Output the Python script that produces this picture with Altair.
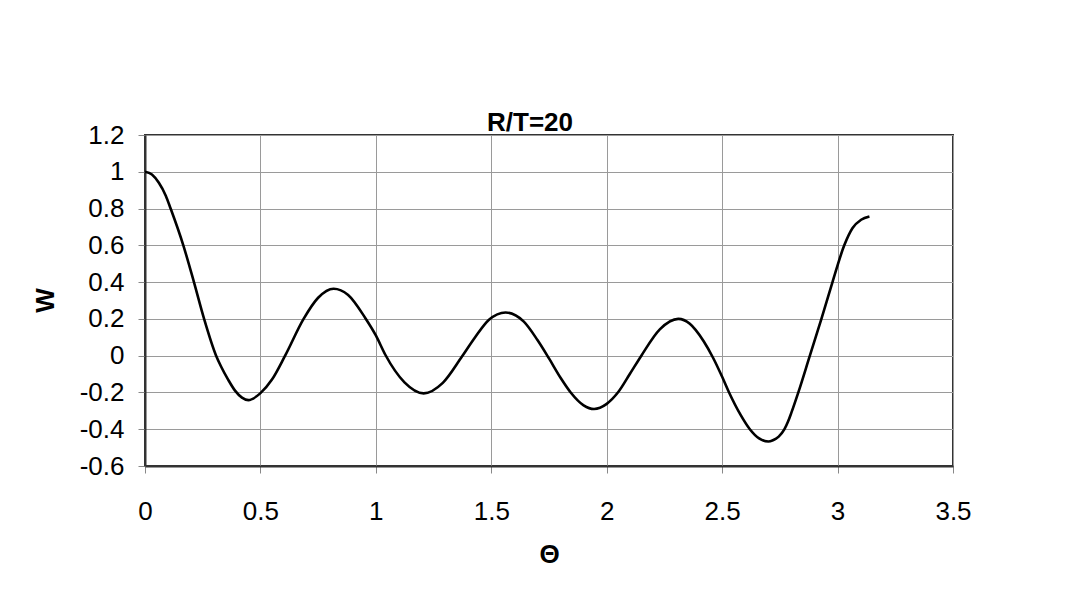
import altair as alt
import pandas as pd

# Curve W(Theta) for R/T = 20
theta = [0.0, 0.03, 0.06, 0.09, 0.111, 0.166, 0.212, 0.256, 0.308, 0.33,
         0.36, 0.39, 0.42, 0.448, 0.499, 0.55, 0.607, 0.687, 0.75, 0.817,
         0.88, 0.954, 1.0, 1.041, 1.124, 1.207, 1.29, 1.373, 1.43, 1.49,
         1.562, 1.641, 1.70, 1.75, 1.80, 1.844, 1.9, 1.945, 2.0, 2.05,
         2.10, 2.15, 2.23, 2.31, 2.36, 2.385, 2.42, 2.46, 2.5, 2.53,
         2.58, 2.62, 2.66, 2.70, 2.72, 2.745, 2.77, 2.785, 2.80, 2.83,
         2.88, 2.93, 2.978, 3.029, 3.065, 3.102, 3.138]
w = [1.0, 0.985, 0.94, 0.87, 0.8, 0.6, 0.4, 0.2, 0.0, -0.06,
     -0.13, -0.19, -0.228, -0.242, -0.205, -0.13, 0.0, 0.2, 0.315, 0.364,
     0.33, 0.205, 0.11, 0.005, -0.145, -0.205, -0.148, -0.005, 0.1, 0.195,
     0.235, 0.185, 0.085, -0.015, -0.12, -0.2, -0.27, -0.29, -0.262, -0.198,
     -0.1, 0.0, 0.143, 0.2, 0.173, 0.14, 0.078, -0.01, -0.115, -0.2,
     -0.322, -0.4, -0.45, -0.467, -0.46, -0.44, -0.40, -0.36, -0.31, -0.2,
     0.0, 0.2, 0.4, 0.6, 0.694, 0.739, 0.757]

x_ticks = [0, 0.5, 1, 1.5, 2, 2.5, 3, 3.5]
y_ticks = [-0.6, -0.4, -0.2, 0, 0.2, 0.4, 0.6, 0.8, 1, 1.2]

df = pd.DataFrame({"theta": theta, "w": w})

FONT = "Liberation Sans"

chart = alt.Chart(df).mark_line(
    color="black", strokeWidth=2.6, interpolate="monotone"
).encode(
    x=alt.X("theta:Q",
            scale=alt.Scale(domain=[0, 3.5], nice=False, zero=False),
            axis=alt.Axis(values=x_ticks, title="Θ",
                          labelExpr="'' + datum.value", labelFlush=False,
                          titleX=404, titleY=88, titleBaseline="middle",
                          titleAlign="center")),
    y=alt.Y("w:Q",
            scale=alt.Scale(domain=[-0.6, 1.2], nice=False, zero=False),
            axis=alt.Axis(values=y_ticks, title="W",
                          labelExpr="'' + datum.value", labelFlush=False,
                          titleX=-100, titleY=165, titleBaseline="middle",
                          titleAlign="center", titleAngle=270)),
).properties(
    width=808,
    height=331,
    autosize=alt.AutoSizeParams(type="none"),
    padding={"left": 137, "top": 127, "right": 114, "bottom": 120},
    title=alt.TitleParams(
        text="R/T=20", fontSize=26, fontWeight="bold", font=FONT,
        color="black", anchor="middle", dx=-19, dy=38, offset=3,
        baseline="alphabetic"),
).configure_view(
    stroke="#333333", strokeWidth=2
).configure_axis(
    labelFont=FONT, labelFontSize=26, labelColor="black",
    titleFont=FONT, titleFontSize=26, titleFontWeight="bold",
    titleColor="black",
    grid=True, gridColor="#9a9a9a", gridWidth=1,
    domainColor="#333333", domainWidth=2,
    tickColor="#888888", tickSize=7, tickWidth=1,
).configure_axisX(
    labelPadding=25
).configure_axisY(
    labelPadding=14
)

chart.save("out.html", embed_options={"renderer": "svg", "actions": False})
